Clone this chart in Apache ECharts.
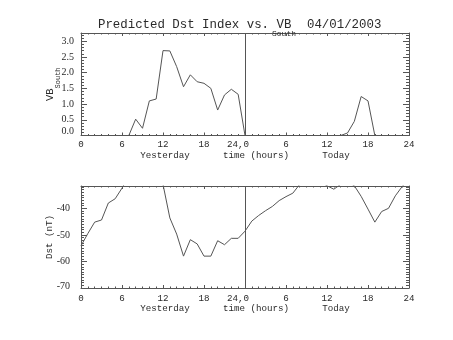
<!DOCTYPE html>
<html><head><meta charset="utf-8">
<script src="https://cdn.jsdelivr.net/npm/echarts@6/dist/echarts.min.js"></script>
<style>html,body{margin:0;padding:0;background:#fff}#c{width:453px;height:340px}</style>
</head><body><div id="c"></div>
<script>
// ---- data ----
const hours = [0,1,2,3,4,5,6,7,8,9,10,11,12,13,14,15,16,17,18,19,20,21,22,23,24,
  25,26,27,28,29,30,31,32,33,34,35,36,37,38,39,40,41,42,43,44,45,46,47,48];
const vbSouth = [0,0,0,0,0,0,0,0,0.52,0.23,1.10,1.16,2.70,2.69,2.19,1.55,1.93,1.71,1.66,1.50,0.81,1.29,1.47,1.31,0,
  0,0,0,0,0,0,0,0,0,0,0,0,0,0,0.08,0.45,1.24,1.10,0,0,0,0,0,0];
const dst = [-54.1,-49.5,-45.2,-44.4,-38.0,-36.4,-32.4,-28,-26,-25,-26,-28,-31,-43.6,-49.7,-58.0,-51.8,-53.4,-58.0,-58.0,-52.2,-53.7,-51.3,-51.3,-48.6,
  -44.8,-42.7,-40.9,-39.3,-37.1,-35.6,-34.3,-31,-29,-28,-30,-31.5,-32.8,-31,-30,-31.5,-35.5,-40.3,-45.2,-41.2,-40.0,-35.3,-31.8,-29];
const xTickLabels = ['0','6','12','18','24,0','6','12','18','24'];
const xTitle = 'Yesterday      time (hours)      Today';
const titleMain = 'Predicted Dst Index vs. VB';
const titleSub = 'South';
const titleDate = '04/01/2003';
const vbName = ['VB', 'South'];
const dstName = 'Dst (nT)';

// ---- styling ----
const FONT = 'Liberation Mono';
const YFONT = 'Liberation Serif';
const INK = '#2a2a2a';
const AX = '#555';
const TICK_FS = 9.2;
const YTICK_FS = 10;

function xAxisPair(g) {
  const base = {
    type: 'value', gridIndex: g, min: 0, max: 48, interval: 6,
    axisLine: {show: true, onZero: false, lineStyle: {color: AX, width: 1}},
    axisTick: {show: true, inside: true, length: 3, lineStyle: {color: AX}},
    minorTick: {show: true, splitNumber: 6, length: 1.5, lineStyle: {color: AX}},
    splitLine: {show: false}, minorSplitLine: {show: false}
  };
  const bottom = Object.assign({}, base, {
    position: 'bottom',
    axisLabel: {show: true, margin: g === 0 ? 5 : 6, fontFamily: FONT, fontSize: TICK_FS, color: INK,
      formatter: v => { const t = xTickLabels[Math.round(v / 6)]; return t === '24,0' ? '{s|' + t + '}' : t; },
      rich: {s: {fontFamily: FONT, fontSize: TICK_FS, color: INK, padding: [0, 14, 0, 0]}}},
    name: xTitle, nameLocation: 'middle', nameGap: 16, nameMoveOverlap: false,
    nameTextStyle: {fontFamily: FONT, fontSize: TICK_FS, color: INK}
  });
  const top = Object.assign({}, base, {position: 'top', axisLabel: {show: false}});
  return [bottom, top];
}

function yAxisPair(g, min, max, interval, minorSplit, labelMargin, loPad, fmt, name, nameGap, nameStyle) {
  const base = {
    type: 'value', gridIndex: g, min: min, max: max, interval: interval,
    axisLine: {show: true, onZero: false, lineStyle: {color: AX, width: 1}},
    axisTick: {show: true, inside: true, length: 6, lineStyle: {color: AX}},
    minorTick: {show: true, splitNumber: minorSplit, length: 3, lineStyle: {color: AX}},
    splitLine: {show: false}, minorSplitLine: {show: false}
  };
  const left = Object.assign({}, base, {
    position: 'left',
    axisLabel: {show: true, margin: labelMargin, fontFamily: YFONT, fontSize: YTICK_FS, color: INK,
      showMaxLabel: false,
      formatter: v => v === min ? '{lo|' + fmt(v) + '}' : fmt(v),
      rich: {lo: {fontFamily: YFONT, fontSize: YTICK_FS, color: INK, padding: [0, 0, loPad, 0]}}},
    name: name, nameLocation: 'middle', nameGap: nameGap, nameMoveOverlap: false, nameTextStyle: nameStyle
  });
  const right = Object.assign({}, base, {position: 'right', axisLabel: {show: false}});
  return [left, right];
}

const xAxes = [...xAxisPair(0), ...xAxisPair(1)];
const yAxes = [
  ...yAxisPair(0, 0, 3.26, 0.5, 5, 7, 8, v => v.toFixed(1),
    '{v|' + vbName[0] + '}{s|' + vbName[1] + '}', 24,
    {fontFamily: FONT, color: INK, rich: {
      v: {fontFamily: FONT, fontSize: 10.5, color: INK, lineHeight: 12, verticalAlign: 'top'},
      s: {fontFamily: FONT, fontSize: 7, color: INK, lineHeight: 7, padding: [10, 0, 0, 0], verticalAlign: 'top'}}}),
  ...yAxisPair(1, -70, -31.6, 10, 10, 11, 4, v => String(Math.round(v)),
    dstName, 27, {fontFamily: FONT, fontSize: TICK_FS, color: INK})
];

function lineSeries(xi, yi, vals) {
  return {
    type: 'line', xAxisIndex: xi, yAxisIndex: yi,
    data: hours.map((h, i) => [h, vals[i]]),
    showSymbol: false, symbol: 'none', clip: true,
    lineStyle: {color: '#555', width: 1},
    emphasis: {disabled: true},
    markLine: {silent: true, symbol: 'none', animation: false,
      label: {show: false},
      lineStyle: {color: '#555', width: 1, type: 'solid'},
      data: [{xAxis: 24}]}
  };
}

const titleStyle = fs => ({fontFamily: FONT, fontSize: fs, fontWeight: 'normal', color: INK});
const chart = echarts.init(document.getElementById('c'), null, {renderer: 'canvas', width: 453, height: 340});
chart.setOption({
  animation: false,
  backgroundColor: '#fff',
  title: [
    {left: 98, top: 19, padding: 0, text: titleMain, textStyle: titleStyle(12.4)},
    {left: 272, top: 29.5, padding: 0, text: titleSub, textStyle: titleStyle(8)},
    {left: 307, top: 19, padding: 0, text: titleDate, textStyle: titleStyle(12.4)}
  ],
  grid: [
    {left: 81, top: 33, width: 328, height: 102.5},
    {left: 81, top: 186, width: 328, height: 102}
  ],
  xAxis: xAxes,
  yAxis: yAxes,
  series: [lineSeries(0, 0, vbSouth), lineSeries(2, 2, dst)]
});
</script>
</body></html>
